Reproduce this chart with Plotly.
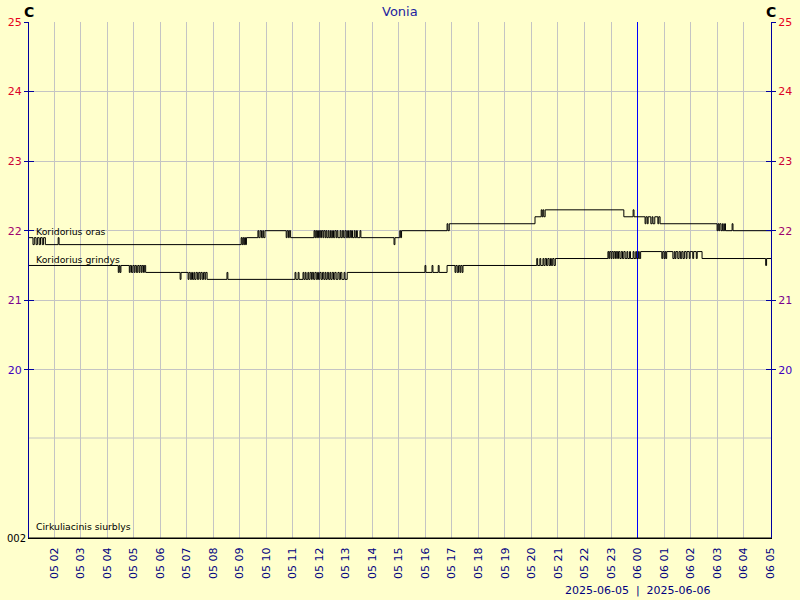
import plotly.graph_objects as go

# ---------------- data ----------------
oras_time = [
    "05 01:03", "05 01:12", "05 01:15", "05 01:19", "05 01:22", "05 01:26", "05 01:29",
    "05 01:33", "05 01:36", "05 01:40", "05 02:09", "05 02:11",
    "05 09:03", "05 09:05", "05 09:07", "05 09:09", "05 09:11", "05 09:13", "05 09:15",
    "05 09:41", "05 09:43", "05 09:46", "05 09:49", "05 09:52", "05 09:54", "05 09:57",
    "05 10:45", "05 10:47", "05 10:50", "05 10:52", "05 10:55",
    "05 11:48", "05 11:50", "05 11:52", "05 11:54", "05 11:56", "05 11:58", "05 12:00",
    "05 12:03", "05 12:05", "05 12:08", "05 12:10", "05 12:13", "05 12:15", "05 12:17",
    "05 12:20", "05 12:22", "05 12:25", "05 12:27", "05 12:30", "05 12:32", "05 12:35",
    "05 12:38", "05 12:40", "05 12:42", "05 12:47", "05 12:49", "05 12:52", "05 12:55",
    "05 12:58", "05 13:01", "05 13:04", "05 13:06", "05 13:09", "05 13:11", "05 13:13",
    "05 13:15", "05 13:19", "05 13:21", "05 13:24", "05 13:26", "05 13:32", "05 13:34",
    "05 14:49", "05 14:51", "05 15:02", "05 15:04", "05 15:06",
    "05 16:49", "05 16:51", "05 16:54", "05 20:08",
    "05 20:22", "05 20:24", "05 20:26", "05 20:28", "05 20:31",
    "05 23:29", "05 23:50", "05 23:52",
    "06 00:17", "06 00:19", "06 00:22", "06 00:24", "06 00:30", "06 00:33", "06 00:35",
    "06 00:39", "06 00:46", "06 00:48", "06 00:51",
    "06 03:00", "06 03:02", "06 03:04", "06 03:06", "06 03:09", "06 03:12", "06 03:14",
    "06 03:17", "06 03:19", "06 03:34", "06 03:36", "06 05:02",
]
oras_temp = [
    21.9, 21.8, 21.9, 21.8, 21.9, 21.8, 21.9,
    21.8, 21.9, 21.8, 21.9, 21.8,
    21.9, 21.8, 21.9, 21.8, 21.9, 21.8, 21.9,
    22.0, 21.9, 22.0, 21.9, 22.0, 21.9, 22.0,
    21.9, 22.0, 21.9, 22.0, 21.9,
    22.0, 21.9, 22.0, 21.9, 22.0, 21.9, 22.0,
    21.9, 22.0, 21.9, 22.0, 21.9, 22.0, 21.9,
    22.0, 21.9, 22.0, 21.9, 22.0, 21.9, 22.0,
    21.9, 22.0, 21.9, 22.0, 21.9, 22.0, 21.9,
    22.0, 21.9, 22.0, 21.9, 22.0, 21.9, 22.0,
    21.9, 22.0, 21.9, 22.0, 21.9, 22.0, 21.9,
    21.8, 21.9, 22.0, 21.9, 22.0,
    22.1, 22.0, 22.1, 22.2,
    22.3, 22.2, 22.3, 22.2, 22.3,
    22.2, 22.3, 22.2,
    22.1, 22.2, 22.1, 22.2, 22.1, 22.2, 22.1,
    22.2, 22.1, 22.2, 22.1,
    22.0, 22.1, 22.0, 22.1, 22.0, 22.1, 22.0,
    22.1, 22.0, 22.1, 22.0, 22.0,
]

grindys_time = [
    "05 01:03", "05 04:25", "05 04:27", "05 04:29", "05 04:31",
    "05 04:50", "05 04:52", "05 04:55", "05 04:58", "05 05:01", "05 05:03", "05 05:06",
    "05 05:09", "05 05:12", "05 05:14", "05 05:17", "05 05:19", "05 05:22", "05 05:24",
    "05 05:27", "05 06:45", "05 06:47",
    "05 07:03", "05 07:05", "05 07:08", "05 07:11", "05 07:13", "05 07:16", "05 07:18",
    "05 07:21", "05 07:24", "05 07:27", "05 07:30", "05 07:32", "05 07:35", "05 07:38",
    "05 07:41", "05 07:43", "05 07:46", "05 08:31", "05 08:33",
    "05 11:05", "05 11:07", "05 11:12", "05 11:14", "05 11:23", "05 11:25", "05 11:28",
    "05 11:30", "05 11:34", "05 11:36", "05 11:39", "05 11:42", "05 11:44", "05 11:47",
    "05 11:50", "05 11:53", "05 11:56", "05 11:58", "05 12:01", "05 12:04", "05 12:07",
    "05 12:10", "05 12:13", "05 12:15", "05 12:18", "05 12:21", "05 12:24", "05 12:26",
    "05 12:29", "05 12:32", "05 12:35", "05 12:38", "05 12:42", "05 12:45", "05 12:48",
    "05 12:51", "05 12:56", "05 12:58", "05 13:03",
    "05 15:59", "05 16:01", "05 16:15", "05 16:17", "05 16:29", "05 16:31", "05 16:49",
    "05 17:07", "05 17:09", "05 17:12", "05 17:15", "05 17:18", "05 17:20", "05 17:23",
    "05 17:25",
    "05 20:12", "05 20:14", "05 20:19", "05 20:21", "05 20:26", "05 20:28", "05 20:31",
    "05 20:34", "05 20:37", "05 20:40", "05 20:43", "05 20:45", "05 20:48", "05 20:51",
    "05 20:54",
    "05 22:53", "05 22:55", "05 22:57", "05 23:00", "05 23:02", "05 23:05", "05 23:07",
    "05 23:10", "05 23:12", "05 23:15", "05 23:17", "05 23:20", "05 23:23", "05 23:26",
    "05 23:29", "05 23:32", "05 23:36", "05 23:38", "05 23:42", "05 23:44", "05 23:50",
    "05 23:52", "05 23:56", "05 23:58", "06 00:02", "06 00:04", "06 00:07",
    "06 00:55", "06 00:57", "06 01:00", "06 01:02", "06 01:04", "06 01:06", "06 01:20",
    "06 01:23", "06 01:25", "06 01:27", "06 01:31", "06 01:34", "06 01:37", "06 01:40",
    "06 01:43", "06 01:46", "06 01:50", "06 01:52", "06 01:57", "06 01:59", "06 02:05",
    "06 02:07", "06 02:13", "06 02:15", "06 02:26",
    "06 04:50", "06 04:52", "06 05:02",
]
grindys_temp = [
    21.5, 21.4, 21.5, 21.4, 21.5,
    21.4, 21.5, 21.4, 21.5, 21.4, 21.5, 21.4,
    21.5, 21.4, 21.5, 21.4, 21.5, 21.4, 21.5,
    21.4, 21.3, 21.4,
    21.3, 21.4, 21.3, 21.4, 21.3, 21.4, 21.3,
    21.4, 21.3, 21.4, 21.3, 21.4, 21.3, 21.4,
    21.3, 21.4, 21.3, 21.4, 21.3,
    21.4, 21.3, 21.4, 21.3, 21.4, 21.3, 21.4,
    21.3, 21.4, 21.3, 21.4, 21.3, 21.4, 21.3,
    21.4, 21.3, 21.4, 21.3, 21.4, 21.3, 21.4,
    21.3, 21.4, 21.3, 21.4, 21.3, 21.4, 21.3,
    21.4, 21.3, 21.4, 21.3, 21.4, 21.3, 21.4,
    21.3, 21.4, 21.3, 21.4,
    21.5, 21.4, 21.5, 21.4, 21.5, 21.4, 21.5,
    21.4, 21.5, 21.4, 21.5, 21.4, 21.5, 21.4,
    21.5,
    21.6, 21.5, 21.6, 21.5, 21.6, 21.5, 21.6,
    21.5, 21.6, 21.5, 21.6, 21.5, 21.6, 21.5,
    21.6,
    21.7, 21.6, 21.7, 21.6, 21.7, 21.6, 21.7,
    21.6, 21.7, 21.6, 21.7, 21.6, 21.7, 21.6,
    21.7, 21.6, 21.7, 21.6, 21.7, 21.6, 21.7,
    21.6, 21.7, 21.6, 21.7, 21.6, 21.7,
    21.6, 21.7, 21.6, 21.7, 21.6, 21.7, 21.6,
    21.7, 21.6, 21.7, 21.6, 21.7, 21.6, 21.7,
    21.6, 21.7, 21.6, 21.7, 21.6, 21.7, 21.6,
    21.7, 21.6, 21.7, 21.6,
    21.5, 21.6, 21.6,
]

# pump (Cirkuliacinis siurblys): flat at 0 over the whole window
pump_time = ["05 01:03", "06 05:02"]
pump_state = [0, 0]

temp_ticks = [20, 21, 22, 23, 24, 25]
temp_tick_colors = ["#4000c0", "#7a0090", "#a0006e", "#cc0038", "#dd0028", "#e8001c"]
pump_ticks = [0]
pump_ticktext = ["002"]

series_names = ["Koridorius oras", "Koridorius grindys", "Cirkuliacinis siurblys"]
title_text = "Vonia"
unit_text = "<b>C</b>"
date_text = "2025-06-05\u00a0 |\u00a0 2025-06-06"
x_start = "2025-06-05 01:03"
x_end = "2025-06-06 05:02"
midnight = "2025-06-06 00:00"


def full(ts):
    return ["2025-06-" + t for t in ts]


BG = "#ffffcc"
GRID = "#c4c4c4"
NAVY = "#000080"
AXIS = "#0000a0"
BLUE = "#0000ff"
FONT = "DejaVu Sans"

# layout geometry (pixels)
L, R, T, B = 29, 29, 22, 62
H = 600 - T - B
split = 100 / H


def py(p):
    return (600 - B - p) / H


def px(p):
    return (p - L) / (800 - L - R)


ticktext = ['<span style="color:%s">%d</span>' % (c, v) for v, c in zip(temp_ticks, temp_tick_colors)]

line_style = dict(color="black", width=1, shape="hv")
fig = go.Figure()
fig.add_trace(go.Scatter(x=full(oras_time), y=oras_temp, mode="lines", name=series_names[0],
                         line=line_style, xaxis="x", yaxis="y", hoverinfo="x+y"))
fig.add_trace(go.Scatter(x=full(grindys_time), y=grindys_temp, mode="lines", name=series_names[1],
                         line=line_style, xaxis="x", yaxis="y3", hoverinfo="x+y"))
fig.add_trace(go.Scatter(x=full(pump_time), y=pump_state, mode="lines", name=series_names[2],
                         line=line_style, xaxis="x", yaxis="y2", hoverinfo="x+y"))
# empty helper traces so that the extra axes (tick marks, midnight grid line) are drawn
for xa, ya in [("x", "y4"), ("x", "y5"), ("x2", "y"), ("x2", "y2")]:
    fig.add_trace(go.Scatter(x=[x_start], y=[None], mode="lines", xaxis=xa, yaxis=ya,
                             hoverinfo="skip", showlegend=False))

yrange = [19.02, 25]
common_y = dict(range=yrange, tickvals=temp_ticks, zeroline=False, fixedrange=True)

fig.update_layout(
    width=800, height=600,
    margin=dict(l=L, r=R, t=T, b=B, pad=0, autoexpand=False),
    paper_bgcolor=BG, plot_bgcolor=BG,
    showlegend=False,
    font=dict(family=FONT, size=11, color="black"),
    xaxis=dict(
        type="date", range=[x_start, x_end], anchor="y2", domain=[0, 1],
        tickformat="%d %H", dtick=3600000, tick0="2025-06-05 00:00",
        tickangle=-90, tickfont=dict(size=11, color=NAVY),
        showgrid=True, gridcolor=GRID, gridwidth=1,
        showline=True, linecolor="black", linewidth=1, zeroline=False,
        ticks="outside", ticklen=4, tickcolor="rgba(0,0,0,0)", fixedrange=True,
    ),
    xaxis2=dict(
        type="date", range=[x_start, x_end], overlaying="x", anchor="y2",
        tickvals=[midnight], showticklabels=False, ticks="",
        showgrid=True, gridcolor=BLUE, gridwidth=1,
        showline=False, zeroline=False, fixedrange=True,
    ),
    yaxis=dict(
        domain=[split, 1], anchor="x", side="left",
        ticktext=ticktext, tickfont=dict(size=11),
        showgrid=True, gridcolor=GRID, gridwidth=1,
        showline=True, linecolor=AXIS, linewidth=1,
        ticks="outside", ticklen=4, tickcolor=AXIS,
        **common_y,
    ),
    yaxis2=dict(
        domain=[0, split], anchor="x", range=[0, 1], tickvals=pump_ticks, ticktext=pump_ticktext,
        tickfont=dict(size=10, color="black"), showgrid=False, zeroline=False,
        showline=True, mirror=True, linecolor=AXIS, linewidth=1, ticks="", fixedrange=True,
    ),
    yaxis3=dict(
        overlaying="y", side="right", anchor="x",
        ticktext=ticktext, tickfont=dict(size=11), showgrid=False,
        showline=True, linecolor=AXIS, linewidth=1,
        ticks="outside", ticklen=4, tickcolor=AXIS,
        **common_y,
    ),
    yaxis4=dict(
        overlaying="y", side="left", anchor="x", showticklabels=False, showgrid=False,
        showline=False, ticks="inside", ticklen=5, tickcolor=AXIS, **common_y,
    ),
    yaxis5=dict(
        overlaying="y", side="right", anchor="x", showticklabels=False, showgrid=False,
        showline=False, ticks="inside", ticklen=5, tickcolor=AXIS, **common_y,
    ),
    shapes=[
        dict(type="line", xref="paper", yref="paper", x0=0, x1=1, y0=split, y1=split,
             line=dict(color=GRID, width=1), layer="below"),
    ],
    annotations=[
        dict(text=title_text, xref="paper", yref="paper", x=0.5, y=py(12), showarrow=False,
             xanchor="center", yanchor="middle", font=dict(size=13, color="#2424a0")),
        dict(text=unit_text, xref="paper", yref="paper", x=0, y=py(12), showarrow=False,
             xanchor="center", yanchor="middle", font=dict(size=14, color="black")),
        dict(text=unit_text, xref="paper", yref="paper", x=1, y=py(12), showarrow=False,
             xanchor="center", yanchor="middle", font=dict(size=14, color="black")),
        dict(text=series_names[0], xref="paper", yref="paper", x=px(34), y=py(231), showarrow=False,
             xanchor="left", yanchor="middle", font=dict(size=9.3, color="black")),
        dict(text=series_names[1], xref="paper", yref="paper", x=px(34), y=py(259), showarrow=False,
             xanchor="left", yanchor="middle", font=dict(size=9.3, color="black")),
        dict(text=series_names[2], xref="paper", yref="paper", x=px(34), y=py(526), showarrow=False,
             xanchor="left", yanchor="middle", font=dict(size=9.3, color="black")),
        dict(text=date_text, xref="x", yref="paper", x=midnight, y=py(590), showarrow=False,
             xanchor="center", yanchor="middle", font=dict(size=11, color=NAVY)),
    ],
)

fig.write_html("out.html", config={"displayModeBar": False},
               post_script="document.body.style.margin='0';document.body.style.background='#ffffcc';")
